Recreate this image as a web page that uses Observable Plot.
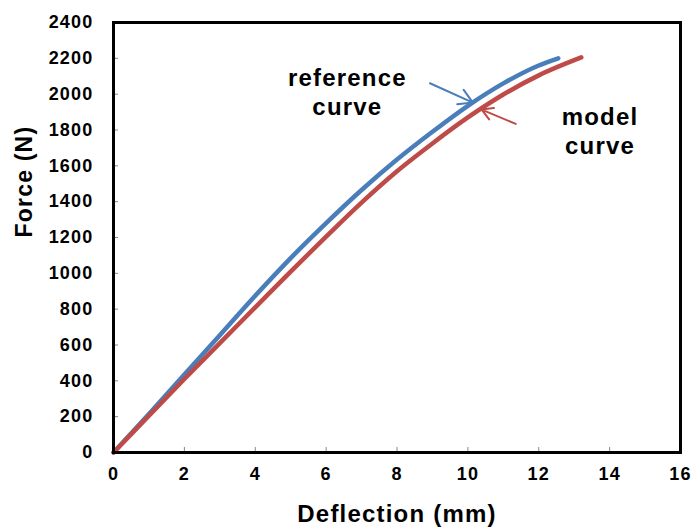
<!DOCTYPE html>
<html>
<head>
<meta charset="utf-8">
<script src="https://cdn.jsdelivr.net/npm/d3@7"></script>
<script src="https://cdn.jsdelivr.net/npm/@observablehq/plot@0.6"></script>
<style>
  html, body { margin: 0; padding: 0; background: #fff; }
</style>
</head>
<body>
<div id="chart"></div>
<script>
// Tick values
const deflectionTicks = [0, 2, 4, 6, 8, 10, 12, 14, 16];
const forceTicks = [0, 200, 400, 600, 800, 1000, 1200, 1400, 1600, 1800, 2000, 2200, 2400];

// Reference curve (blue)
const refDeflection = [0, 1, 2, 3, 4, 5, 6, 7, 8, 9, 10, 11, 12, 12.55];
const refForce      = [0, 215, 435, 655, 875, 1085, 1280, 1465, 1635, 1790, 1935, 2060, 2160, 2200];

// Model curve (red)
const modelDeflection = [0, 1, 2, 3, 4, 5, 6, 7, 8, 9, 10, 11, 12, 13.2];
const modelForce      = [0, 205, 410, 610, 810, 1010, 1205, 1395, 1570, 1725, 1870, 1998, 2105, 2205];

// Annotation arrows
const arrowX1 = [8.93, 11.35];
const arrowY1 = [2061, 1834];
const arrowX2 = [10.14, 10.39];
const arrowY2 = [1953, 1914];
const arrowColors = ["#4A7EBB", "#BE4B48"];

// Annotation labels
const labelText = ["reference\ncurve", "model\ncurve"];
const labelX = [6.6, 13.73];
const labelY = [2016, 1797];

const refData = refDeflection.map((x, i) => ({x, y: refForce[i]}));
const modelData = modelDeflection.map((x, i) => ({x, y: modelForce[i]}));
const arrows = arrowX1.map((x1, i) => ({x1, y1: arrowY1[i], x2: arrowX2[i], y2: arrowY2[i], c: arrowColors[i]}));
const labels = labelText.map((t, i) => ({t, x: labelX[i], y: labelY[i]}));

const W = 691, H = 527, ML = 113, MR = 11, MT = 22, MB = 75;
const innerW = W - ML - MR, innerH = H - MT - MB, tickLen = 5;

const chart = Plot.plot({
  width: W,
  height: H,
  marginLeft: ML,
  marginRight: MR,
  marginTop: MT,
  marginBottom: MB,
  style: {
    fontFamily: "'Liberation Sans', Arial, sans-serif",
    fontWeight: "bold",
    letterSpacing: "1.2px",
    color: "black",
    background: "white"
  },
  x: {domain: [0, 16]},
  y: {domain: [0, 2400]},
  marks: [
    Plot.axisX({ticks: deflectionTicks, tickSize: 0, tickPadding: 15, tickFormat: d => String(d), fontSize: 18, label: null, fill: "black"}),
    Plot.axisY({ticks: forceTicks, tickSize: 0, tickPadding: 20, tickFormat: d => String(d), fontSize: 18, label: null, fill: "black"}),
    Plot.ruleX(deflectionTicks, {x: d => d, insetTop: innerH - tickLen, stroke: "#888", strokeWidth: 1}),
    Plot.ruleY(forceTicks, {y: d => d, insetRight: innerW - tickLen, stroke: "#888", strokeWidth: 1}),
    Plot.text(["Deflection (mm)"], {frameAnchor: "bottom", dy: 62, fontSize: 24, lineAnchor: "middle", fill: "black"}),
    Plot.text(["Force (N)"], {frameAnchor: "left", dx: -89, rotate: -90, fontSize: 23, lineAnchor: "middle", fill: "black"}),
    Plot.line(refData, {x: "x", y: "y", stroke: "#4A7EBB", strokeWidth: 4.5, curve: "monotone-x"}),
    Plot.line(modelData, {x: "x", y: "y", stroke: "#BE4B48", strokeWidth: 4.5, curve: "monotone-x"}),
    Plot.arrow(arrows, {x1: "x1", y1: "y1", x2: "x2", y2: "y2", stroke: "c", strokeWidth: 2, headLength: 14}),
    Plot.text(labels, {x: "x", y: "y", text: "t", fontSize: 24, lineHeight: 1.2, fill: "black"}),
    Plot.frame({stroke: "black", strokeWidth: 3})
  ]
});
document.getElementById("chart").appendChild(chart);
</script>
</body>
</html>
